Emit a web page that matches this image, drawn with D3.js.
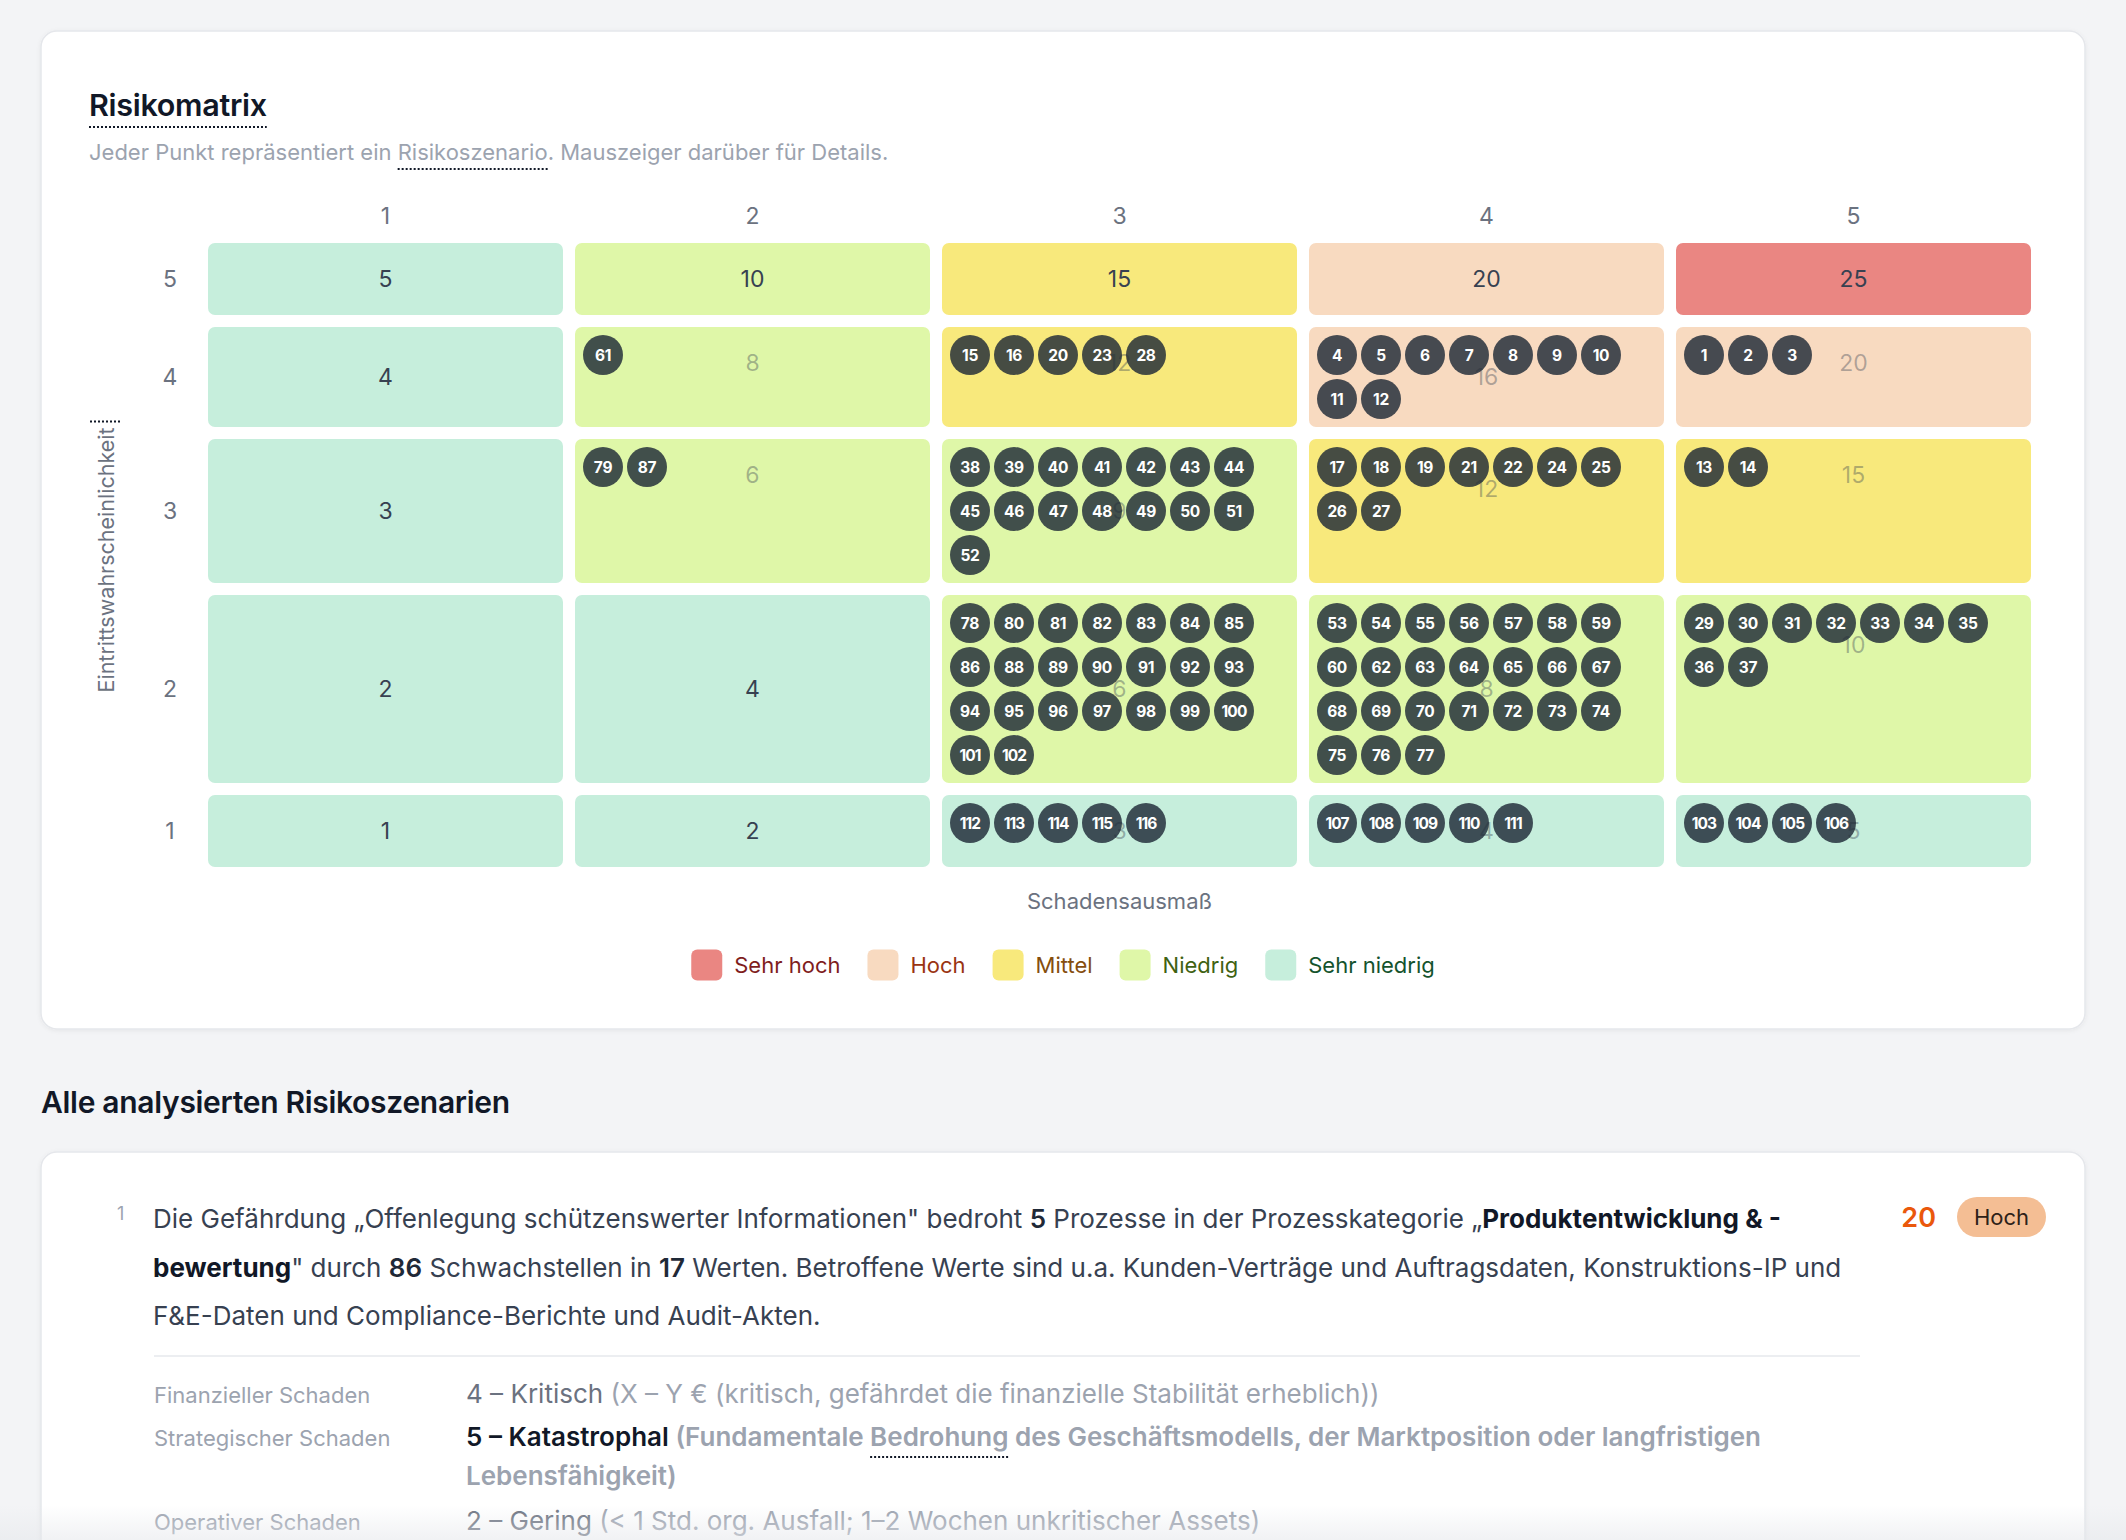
<!DOCTYPE html>
<html><head><meta charset="utf-8">
<script src="https://cdn.jsdelivr.net/npm/d3@7"></script>
<style>
html,body{margin:0;padding:0;background:#f3f4f6;}
svg{display:block;font-family:Inter,"Noto Sans",sans-serif;}
</style></head><body>
<svg id="chart" width="2126" height="1540"></svg>
<script>
// ---------- DATA ----------
const impactLevels = [1, 2, 3, 4, 5];          // Schadensausmaß (columns)
const likelihoodLevels = [5, 4, 3, 2, 1];      // Eintrittswahrscheinlichkeit (rows, top to bottom)
const riskLevels = ["Sehr hoch", "Hoch", "Mittel", "Niedrig", "Sehr niedrig"];
const riskFill = ["#ea8682", "#f8dac0", "#f8e97c", "#dff7a8", "#c6eedc"];
const riskText = ["#7f1d1d", "#9a3412", "#854d0e", "#3f6212", "#14532d"];
const riskThresholds = [6, 11, 16, 21];       // score >= threshold → next level

// scenario numbers placed in each cell
const cellLikelihood = [4, 4, 4, 4, 3, 3, 3, 3, 2, 2, 2, 1, 1, 1];
const cellImpact     = [2, 3, 4, 5, 2, 3, 4, 5, 3, 4, 5, 3, 4, 5];
const cellIds = [
  [61],
  [15, 16, 20, 23, 28],
  [4, 5, 6, 7, 8, 9, 10, 11, 12],
  [1, 2, 3],
  [79, 87],
  [38, 39, 40, 41, 42, 43, 44, 45, 46, 47, 48, 49, 50, 51, 52],
  [17, 18, 19, 21, 22, 24, 25, 26, 27],
  [13, 14],
  [78, 80, 81, 82, 83, 84, 85, 86, 88, 89, 90, 91, 92, 93, 94, 95, 96, 97, 98, 99, 100, 101, 102],
  [53, 54, 55, 56, 57, 58, 59, 60, 62, 63, 64, 65, 66, 67, 68, 69, 70, 71, 72, 73, 74, 75, 76, 77],
  [29, 30, 31, 32, 33, 34, 35, 36, 37],
  [112, 113, 114, 115, 116],
  [107, 108, 109, 110, 111],
  [103, 104, 105, 106]
];

// scenario list (first entry)
const scenarioNumber = 1;
const paragraphLines = [
  [["Die Gefährdung „Offenlegung schützenswerter Informationen\" bedroht ", 0], ["5", 1], [" Prozesse in der Prozesskategorie „", 0], ["Produktentwicklung & -", 2]],
  [["bewertung", 2], ["\" durch ", 0], ["86", 1], [" Schwachstellen in ", 0], ["17", 1], [" Werten. Betroffene Werte sind u.a. Kunden-Verträge und Auftragsdaten, Konstruktions-IP und", 0]],
  [["F&E-Daten und Compliance-Berichte und Audit-Akten.", 0]]
];
const detailLabels = ["Finanzieller Schaden", "Strategischer Schaden", "Operativer Schaden"];
const detailValues = ["4 – Kritisch", "5 – Katastrophal", "2 – Gering"];
const detailNotes = [
  ["(X – Y € (kritisch, gefährdet die finanzielle Stabilität erheblich))"],
  ["(Fundamentale Bedrohung des Geschäftsmodells, der Marktposition oder langfristigen", "Lebensfähigkeit)"],
  ["(< 1 Std. org. Ausfall; 1–2 Wochen unkritischer Assets)"]
];
const detailHighlight = [false, true, false];

// ---------- LAYOUT ----------
const W = 2126, H = 1540;
const svg = d3.select("#chart");
const defs = svg.append("defs");
const f = defs.append("filter").attr("id", "shadow").attr("x", "-5%").attr("y", "-5%").attr("width", "110%").attr("height", "110%");
f.append("feDropShadow").attr("dx", 0).attr("dy", 1).attr("stdDeviation", 2).attr("flood-color", "#000").attr("flood-opacity", 0.06);
const g1 = defs.append("linearGradient").attr("id", "fade").attr("x1", 0).attr("x2", 0).attr("y1", 0).attr("y2", 1);
g1.append("stop").attr("offset", 0).attr("stop-color", "#e5e7eb").attr("stop-opacity", 0);
g1.append("stop").attr("offset", 1).attr("stop-color", "#e5e7eb").attr("stop-opacity", 0.55);

svg.append("rect").attr("width", W).attr("height", H).attr("fill", "#f3f4f6");

// Card 1
svg.append("rect").attr("x", 41).attr("y", 31).attr("width", 2044).attr("height", 998)
  .attr("rx", 16).attr("fill", "#fff").attr("stroke", "#e5e7eb").attr("stroke-width", 1.5).attr("filter", "url(#shadow)");

const title = svg.append("text").attr("x", 89).attr("y", 116).attr("font-size", 30.5).attr("font-weight", 600)
  .attr("fill", "#111827").attr("letter-spacing", -0.3).text("Risikomatrix");
const tw = title.node().getComputedTextLength();
svg.append("line").attr("x1", 89).attr("x2", 89 + tw).attr("y1", 127).attr("y2", 127)
  .attr("stroke", "#111827").attr("stroke-width", 2).attr("stroke-dasharray", "2,2");

const sub = svg.append("text").attr("x", 89).attr("y", 160).attr("font-size", 22).attr("fill", "#9ca3af");
sub.append("tspan").text("Jeder Punkt repräsentiert ein ");
sub.append("tspan").text("Risikoszenario");
sub.append("tspan").text(". Mauszeiger darüber für Details.");
{
  const n = sub.node();
  const start = "Jeder Punkt repräsentiert ein ".length;
  const x0 = n.getStartPositionOfChar(start).x;
  const len = n.getSubStringLength(start, "Risikoszenario".length);
  svg.append("line").attr("x1", x0).attr("x2", x0 + len).attr("y1", 169).attr("y2", 169)
    .attr("stroke", "#111827").attr("stroke-width", 2).attr("stroke-dasharray", "2,2");
}

// Matrix scales
const pad = 8, r = 20, pitch = 44, perRow = 7, minRowH = 72, rowGap = 12;
const x = d3.scaleBand().domain(impactLevels).range([208, 2031]).paddingInner(12 / 367).paddingOuter(0);
const level = d3.scaleThreshold().domain(riskThresholds).range([4, 3, 2, 1, 0]);

const cells = [];
likelihoodLevels.forEach(l => impactLevels.forEach(i => {
  const idx = cellLikelihood.findIndex((cl, k) => cl === l && cellImpact[k] === i);
  cells.push({ l, i, ids: idx >= 0 ? cellIds[idx] : [] });
}));
const heightFor = n => Math.max(minRowH, 2 * pad + Math.ceil(n / perRow) * pitch - 4);
const rowH = new Map(likelihoodLevels.map(l => [l, d3.max(cells.filter(c => c.l === l), c => heightFor(c.ids.length))]));
const rowTop = new Map();
let yc = 243;
likelihoodLevels.forEach(l => { rowTop.set(l, yc); yc += rowH.get(l) + rowGap; });
const matrixBottom = yc - rowGap;

const gm = svg.append("g");
gm.selectAll("rect.cell").data(cells).join("rect").attr("class", "cell")
  .attr("x", d => x(d.i)).attr("y", d => rowTop.get(d.l))
  .attr("width", x.bandwidth()).attr("height", d => rowH.get(d.l)).attr("rx", 7)
  .attr("fill", d => riskFill[level(d.l * d.i)]);

gm.selectAll("text.score").data(cells).join("text").attr("class", "score")
  .attr("x", d => x(d.i) + x.bandwidth() / 2)
  .attr("y", d => rowTop.get(d.l) + (d.ids.length ? heightFor(d.ids.length) : rowH.get(d.l)) / 2)
  .attr("text-anchor", "middle").attr("dominant-baseline", "central")
  .attr("font-size", 23)
  .attr("fill", d => d.ids.length ? "rgba(55,65,81,0.38)" : "#374151")
  .text(d => d.l * d.i);

const dots = [];
cells.forEach(c => c.ids.forEach((id, k) => dots.push({ id, l: c.l, i: c.i, k })));
const dg = gm.selectAll("g.dot").data(dots).join("g").attr("class", "dot")
  .attr("transform", d => `translate(${x(d.i) + pad + r + (d.k % perRow) * pitch},${rowTop.get(d.l) + pad + r + Math.floor(d.k / perRow) * pitch})`);
dg.append("circle").attr("r", r).attr("fill", "rgba(31,41,55,0.82)");
dg.append("text").attr("text-anchor", "middle").attr("dominant-baseline", "central")
  .attr("font-size", 15.5).attr("font-weight", 700).attr("fill", "#fff")
  .attr("letter-spacing", d => d.id >= 100 ? -0.9 : -0.3)
  .text(d => d.id);

// axes labels
gm.selectAll("text.colh").data(impactLevels).join("text").attr("class", "colh")
  .attr("x", d => x(d) + x.bandwidth() / 2).attr("y", 216)
  .attr("text-anchor", "middle").attr("dominant-baseline", "central")
  .attr("font-size", 23).attr("fill", "#6b7280").text(d => d);
gm.selectAll("text.rowh").data(likelihoodLevels).join("text").attr("class", "rowh")
  .attr("x", 170).attr("y", d => rowTop.get(d) + rowH.get(d) / 2)
  .attr("text-anchor", "middle").attr("dominant-baseline", "central")
  .attr("font-size", 23).attr("fill", "#6b7280").text(d => d);

const yMid = (243 + matrixBottom) / 2;
svg.append("text").attr("transform", `translate(106,${yMid + 5}) rotate(-90)`)
  .attr("text-anchor", "middle").attr("dominant-baseline", "central")
  .attr("font-size", 21.5).attr("fill", "#6b7280").text("Eintrittswahrscheinlichkeit");
svg.append("line").attr("x1", 90).attr("x2", 121).attr("y1", 421.5).attr("y2", 421.5)
  .attr("stroke", "#111827").attr("stroke-width", 2).attr("stroke-dasharray", "2,2");

svg.append("text").attr("x", (208 + 2031) / 2).attr("y", matrixBottom + 34)
  .attr("text-anchor", "middle").attr("dominant-baseline", "central")
  .attr("font-size", 22).attr("fill", "#6b7280").text("Schadensausmaß");

// legend
const lg = svg.append("g");
const items = riskLevels.map((name, k) => {
  const g = lg.append("g");
  g.append("rect").attr("width", 31).attr("height", 31).attr("rx", 6).attr("y", -15.5).attr("fill", riskFill[k]);
  const t = g.append("text").attr("x", 43).attr("dominant-baseline", "central").attr("font-size", 22)
    .attr("fill", riskText[k]).text(name);
  return { g, w: 43 + t.node().getComputedTextLength() };
});
const gapL = 27;
const totalL = d3.sum(items, d => d.w) + gapL * (items.length - 1);
let lx = 1063 - totalL / 2;
items.forEach(it => { it.g.attr("transform", `translate(${lx},965)`); lx += it.w + gapL; });

// ---------- Section 2 ----------
svg.append("text").attr("x", 41).attr("y", 1113).attr("font-size", 30).attr("font-weight", 600)
  .attr("fill", "#111827").attr("letter-spacing", -0.3).text("Alle analysierten Risikoszenarien");

svg.append("rect").attr("x", 41).attr("y", 1152).attr("width", 2044).attr("height", 520)
  .attr("rx", 16).attr("fill", "#fff").attr("stroke", "#e5e7eb").attr("stroke-width", 1.5).attr("filter", "url(#shadow)");

svg.append("text").attr("x", 117).attr("y", 1220).attr("font-size", 18).attr("fill", "#9ca3af").text(scenarioNumber);

const weights = [400, 600, 700];
const colors = ["#374151", "#1f2937", "#111827"];
paragraphLines.forEach((segs, li) => {
  const t = svg.append("text").attr("x", 153).attr("y", 1228 + li * 48.5).attr("font-size", 26);
  segs.forEach(([s, w]) => t.append("tspan").attr("font-weight", weights[w]).attr("fill", colors[w]).text(s));
});

// score & badge (scenario 1 lies in cell likelihood 4 × impact 5)
const s1 = cells.find(c => c.ids.includes(scenarioNumber));
const score = s1.l * s1.i;
svg.append("text").attr("x", 1936).attr("y", 1227).attr("text-anchor", "end").attr("font-size", 27)
  .attr("font-weight", 600).attr("fill", "#ea580c").text(score);
svg.append("rect").attr("x", 1957).attr("y", 1197).attr("width", 89).attr("height", 40).attr("rx", 20).attr("fill", "#f4be94");
svg.append("text").attr("x", 2001.5).attr("y", 1217).attr("text-anchor", "middle").attr("dominant-baseline", "central")
  .attr("font-size", 22).attr("fill", "#2d2118").text(riskLevels[level(score)]);

svg.append("line").attr("x1", 154).attr("x2", 1860).attr("y1", 1356).attr("y2", 1356)
  .attr("stroke", "#eceef1").attr("stroke-width", 2);

const rowBase = [1403, 1446, 1530];
detailLabels.forEach((lab, k) => {
  svg.append("text").attr("x", 154).attr("y", rowBase[k]).attr("font-size", 22).attr("fill", "#9ca3af").text(lab);
  detailNotes[k].forEach((line, j) => {
    const t = svg.append("text").attr("x", 466).attr("y", rowBase[k] + j * 39).attr("font-size", 26);
    if (j === 0) {
      t.append("tspan").attr("fill", detailHighlight[k] ? "#111827" : "#6b7280")
        .attr("font-weight", detailHighlight[k] ? 600 : 400).text(detailValues[k] + " ");
    }
    t.append("tspan").attr("fill", "#9ca3af").attr("font-weight", detailHighlight[k] ? 600 : 400).text(line);
    const word = "Bedrohung";
    const full = t.text();
    const idx = full.indexOf(word);
    if (idx >= 0) {
      const n = t.node();
      const x0 = n.getStartPositionOfChar(idx).x;
      const len = n.getSubStringLength(idx, word.length);
      svg.append("line").attr("x1", x0).attr("x2", x0 + len).attr("y1", rowBase[k] + 11).attr("y2", rowBase[k] + 11)
        .attr("stroke", "#111827").attr("stroke-width", 2).attr("stroke-dasharray", "2,2");
    }
  });
});

svg.append("rect").attr("x", 0).attr("y", 1505).attr("width", W).attr("height", 35).attr("fill", "url(#fade)");
</script>
</body></html>
